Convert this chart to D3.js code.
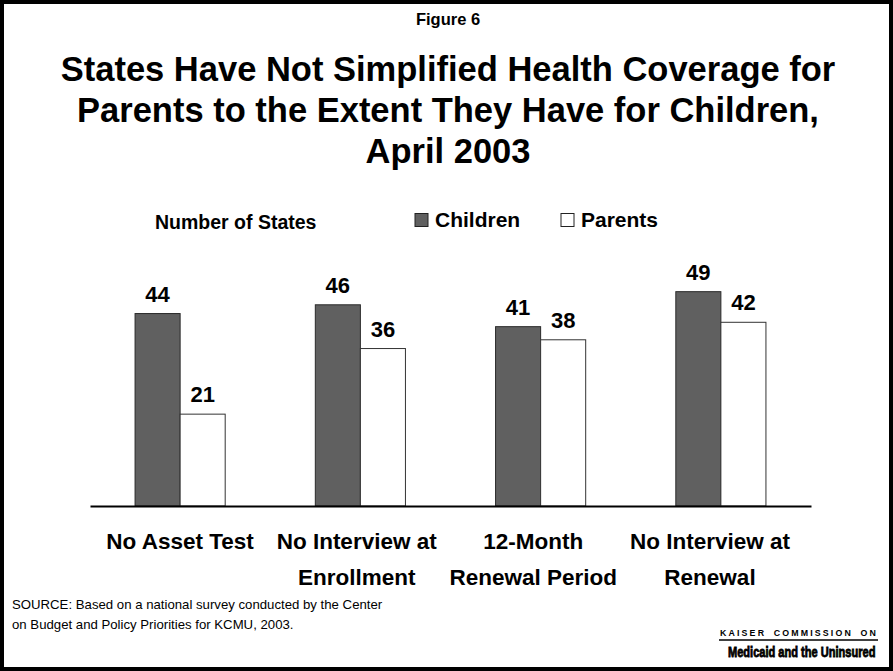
<!DOCTYPE html>
<html>
<head>
<meta charset="utf-8">
<script src="https://cdn.jsdelivr.net/npm/d3@7"></script>
<style>
  html, body { margin: 0; padding: 0; background: #fff; }
  svg { display: block; font-family: "Liberation Sans", Arial, sans-serif; }
</style>
</head>
<body>
<svg id="chart" width="893" height="671"></svg>
<script>
const categories = [["No Asset Test"], ["No Interview at", "Enrollment"], ["12-Month", "Renewal Period"], ["No Interview at", "Renewal"]];
const categoryKeys = ["No Asset Test", "No Interview at Enrollment", "12-Month Renewal Period", "No Interview at Renewal"];
const seriesNames = ["Children", "Parents"];
const childrenValues = [44, 46, 41, 49];
const parentsValues = [21, 36, 38, 42];
const titleLines = ["States Have Not Simplified Health Coverage for", "Parents to the Extent They Have for Children,", "April 2003"];
const figureLabel = "Figure 6";
const axisLabel = "Number of States";
const sourceLines = ["SOURCE: Based on a national survey conducted by the Center", "on Budget and Policy Priorities for KCMU, 2003."];
const logoLines = ["KAISER COMMISSION ON", "Medicaid and the Uninsured"];

const colors = { Children: "#606060", Parents: "#ffffff" };
const strokes = { Children: "#2a2a2a", Parents: "#333333" };

const svg = d3.select("#chart");
const W = 893, H = 671;

svg.append("rect").attr("x", 0).attr("y", 0).attr("width", W).attr("height", H).attr("fill", "#fff");
svg.append("rect").attr("x", 2).attr("y", 2).attr("width", W - 4).attr("height", H - 4)
  .attr("fill", "none").attr("stroke", "#000").attr("stroke-width", 4);

svg.append("text").attr("x", 448).attr("y", 25).attr("text-anchor", "middle")
  .attr("font-size", 16.5).attr("font-weight", "bold").text(figureLabel);

svg.append("g").selectAll("text").data(titleLines).join("text")
  .attr("x", 448).attr("y", (d, i) => 80.5 + i * 41)
  .attr("text-anchor", "middle").attr("font-size", 34.5).attr("font-weight", "bold")
  .text(d => d);

const x0 = d3.scaleBand().domain(categoryKeys).range([90, 811]).paddingInner(0.5).paddingOuter(0.25);
const x1 = d3.scaleBand().domain(seriesNames).range([0, x0.bandwidth()]);
const y = d3.scaleLinear().domain([0, 50]).range([506, 287.3]);
// category text boxes sit slightly left of the bar groups in the original slide
const xLabel = d3.scalePoint().domain(categoryKeys).range([180, 710]);

const data = categoryKeys.map((k, i) => ({ key: k, values: [
  { s: "Children", v: childrenValues[i] }, { s: "Parents", v: parentsValues[i] } ] }));

const groups = svg.append("g").selectAll("g").data(data).join("g")
  .attr("transform", d => `translate(${x0(d.key)},0)`);

groups.selectAll("rect").data(d => d.values).join("rect")
  .attr("x", d => x1(d.s)).attr("y", d => y(d.v))
  .attr("width", x1.bandwidth()).attr("height", d => y(0) - y(d.v))
  .attr("fill", d => colors[d.s]).attr("stroke", d => strokes[d.s]).attr("stroke-width", 1);

groups.selectAll("text").data(d => d.values).join("text")
  .attr("x", d => x1(d.s) + x1.bandwidth() / 2).attr("y", d => y(d.v) - 12)
  .attr("text-anchor", "middle").attr("font-size", 22).attr("font-weight", "bold")
  .text(d => d.v);

// baseline axis
const xAxis = d3.axisBottom(x0).tickSize(0).tickFormat("");
const axG = svg.append("g").attr("transform", `translate(0,${y(0)})`).call(xAxis);
axG.select(".domain").attr("stroke", "#000").attr("stroke-width", 2);

// category labels
svg.append("g").selectAll("text").data(categoryKeys).join("text")
  .attr("x", d => xLabel(d)).attr("y", 549)
  .attr("text-anchor", "middle").attr("font-size", 22.5).attr("font-weight", "bold")
  .each(function (d, i) {
    const t = d3.select(this);
    categories[i].forEach((line, j) => {
      t.append("tspan").attr("x", xLabel(d)).attr("dy", j === 0 ? 0 : 36).text(line);
    });
  });

// axis title
svg.append("text").attr("x", 155).attr("y", 229).attr("font-size", 19.5).attr("font-weight", "bold").text(axisLabel);

// legend
const legendPos = [{ s: "Children", x: 415 }, { s: "Parents", x: 561 }];
const lg = svg.append("g").selectAll("g").data(legendPos).join("g");
lg.append("rect").attr("x", d => d.x).attr("y", 213.5).attr("width", 13).attr("height", 13)
  .attr("fill", d => colors[d.s]).attr("stroke", "#222").attr("stroke-width", 1);
lg.append("text").attr("x", d => d.x + 20).attr("y", 227).attr("font-size", 21).attr("font-weight", "bold")
  .text(d => d.s);

// source
svg.append("g").selectAll("text").data(sourceLines).join("text")
  .attr("x", 12).attr("y", (d, i) => 609 + i * 20).attr("font-size", 13.2).text(d => d);

// logo
svg.append("text").attr("x", 720).attr("y", 636)
  .attr("font-size", 8.8).attr("font-weight", "bold").attr("letter-spacing", 2.15)
  .attr("word-spacing", 3).text(logoLines[0]);
svg.append("line").attr("x1", 719).attr("x2", 878).attr("y1", 640).attr("y2", 640).attr("stroke", "#000").attr("stroke-width", 1.3);
svg.append("text").attr("transform", "translate(728,657) scale(0.79,1)")
  .attr("font-size", 14).attr("font-weight", "bold").attr("stroke", "#000").attr("stroke-width", 0.8)
  .text(logoLines[1]);
</script>
</body>
</html>
